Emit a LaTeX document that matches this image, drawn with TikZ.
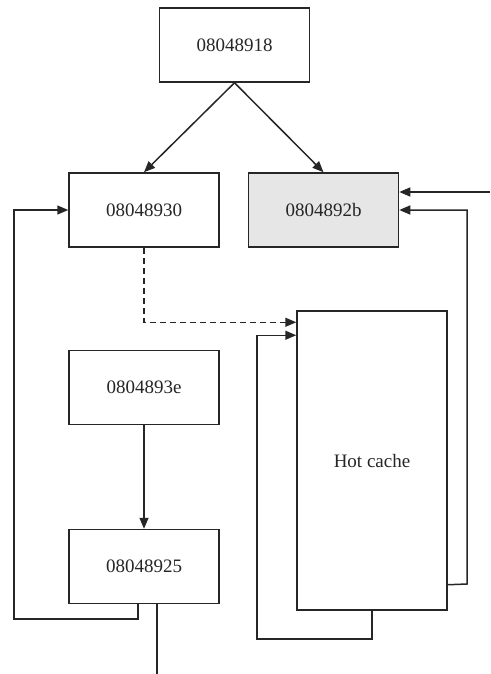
\documentclass[tikz,border=0pt]{standalone}
\usepackage{fontspec}
\setmainfont{Liberation Serif}
\usetikzlibrary{arrows.meta}
\definecolor{linec}{HTML}{262626}
\definecolor{shade}{HTML}{E6E6E6}
\begin{document}
\begin{tikzpicture}[x=1pt,y=-1pt,
  blk/.style={draw=linec, line width=1.5pt, minimum width=150pt, minimum height=74pt,
    inner sep=0pt, fill=white, text=linec, font=\fontsize{19}{22}\selectfont},
  wire/.style={draw=linec, line width=1.5pt},
  conn/.style={wire, -{Triangle[length=11pt,width=9pt]}},
]
\useasboundingbox (0,0) rectangle (490,674);

% blocks
\node[blk] (n918) at (234.5,45) {08048918};
\node[blk] (n930) at (144,210) {08048930};
\node[blk, fill=shade] (n92b) at (323.5,210) {0804892b};
\node[blk] (n93e) at (144,387.5) {0804893e};
\node[blk] (n925) at (144,566.5) {08048925};
\node[blk, minimum height=299pt] (hot) at (372,460.5) {Hot cache};

% helper points
\coordinate (inR) at (490,192);
\coordinate (lb) at (14,619);
\coordinate (exitb) at (157,674);
\coordinate (hin1) at ([yshift=-12pt]hot.north west);
\coordinate (hin2) at ([yshift=-25pt]hot.north west);
\coordinate (bk) at (257,639);
\coordinate (hout) at ([yshift=26pt]hot.south east);
\coordinate (rk) at (467,584);

% edges
\draw[conn] (n918.south) -- (n930.north);
\draw[conn] (n918.south) -- (n92b.north);
\draw[conn] (inR) -- (inR -| n92b.east);
\draw[conn] (hout) -- (rk) |- (n92b.east);
\draw[conn, dash pattern=on 6pt off 4pt] (n930.south) |- (hin1);
\draw[conn] (hot.south) |- (bk) |- (hin2);
\draw[conn] (n93e.south) -- (n925.north);
\draw[conn] ([xshift=-6pt]n925.south) |- (lb) |- (n930.west);
\draw[wire] ([xshift=13pt]n925.south) -- (exitb);
\end{tikzpicture}
\end{document}
